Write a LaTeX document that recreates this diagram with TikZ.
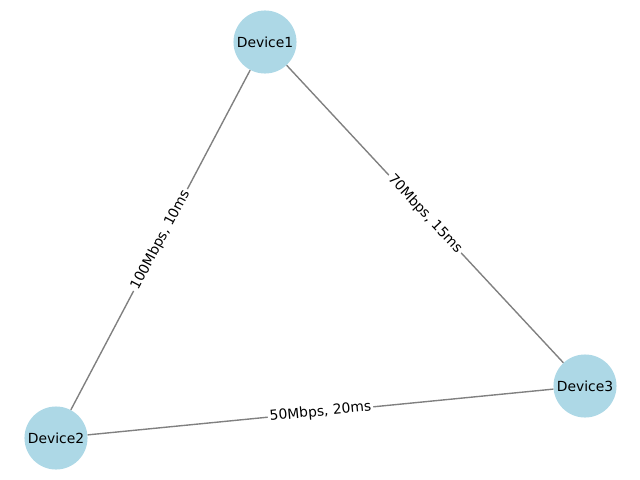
\documentclass[tikz,border=0pt]{standalone}
\usepackage{fontspec}
\setmainfont{DejaVu Sans}
\definecolor{nodeblue}{RGB}{173,216,230}
\definecolor{edgegray}{RGB}{128,128,128}
\begin{document}
\begin{tikzpicture}[x=0.72pt,y=-0.72pt,
  device/.style={circle,fill=nodeblue,inner sep=0pt,minimum size=45.4pt,font=\fontsize{10}{12}\selectfont},
  link/.style={draw=edgegray,line width=1pt},
  linklabel/.style={midway,sloped,fill=white,inner sep=1.5pt,font=\fontsize{10}{12}\selectfont}]
\useasboundingbox (0,0) rectangle (640,480);
\node[device] (d1) at (265,42) {Device1};
\node[device] (d2) at (56,438) {Device2};
\node[device] (d3) at (585,386) {Device3};
\draw[link] (d2) -- node[linklabel] {100Mbps, 10ms} (d1);
\draw[link] (d1) -- node[linklabel] {70Mbps, 15ms} (d3);
\draw[link] (d2) -- node[linklabel] {50Mbps, 20ms} (d3);
\end{tikzpicture}
\end{document}
